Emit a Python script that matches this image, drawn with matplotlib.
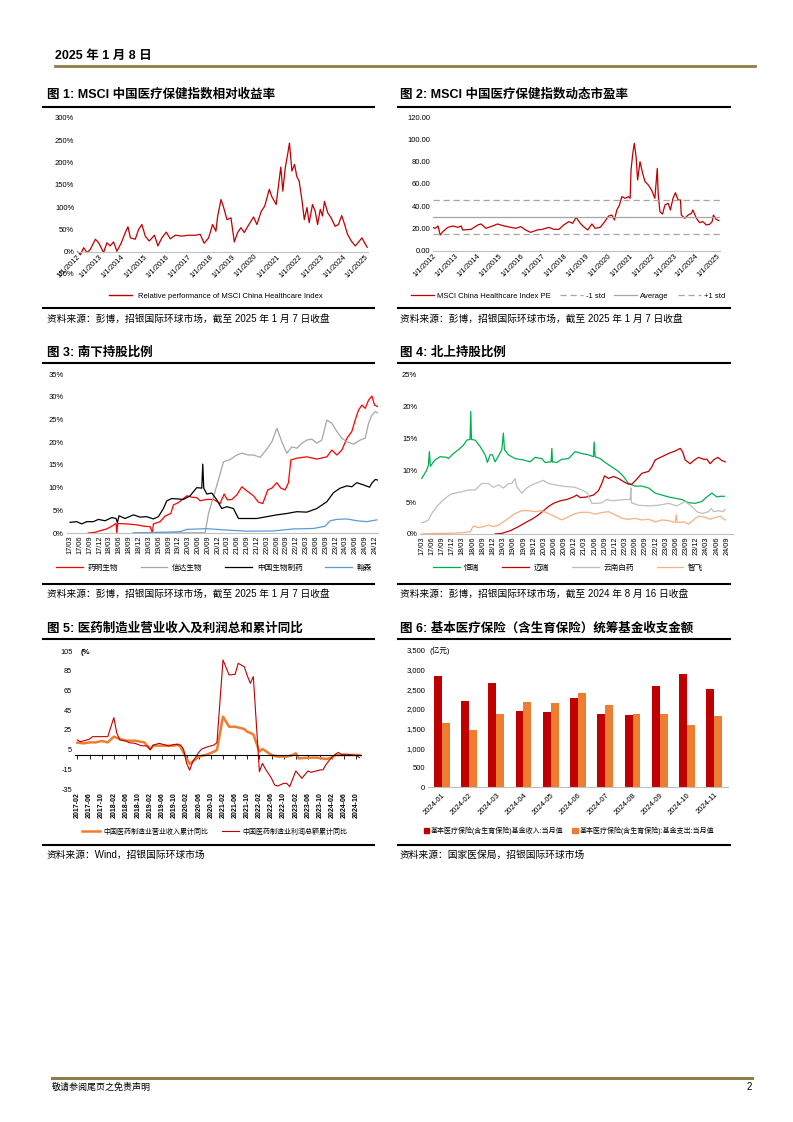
import matplotlib
matplotlib.use('Agg')
import matplotlib.pyplot as plt
from matplotlib.lines import Line2D
from matplotlib.patches import Patch

plt.rcParams['font.family'] = ['Liberation Sans', 'Noto Sans CJK SC']
plt.rcParams['axes.unicode_minus'] = False

# ---------------- data ----------------
# chart 1: relative performance of MSCI China Healthcare (%)
c1_dates = [2012.00, 2012.08, 2012.15, 2012.30, 2012.45, 2012.60, 2012.83, 2012.98, 2013.20, 2013.35,
            2013.50, 2013.65, 2013.80, 2014.00, 2014.18, 2014.30, 2014.41, 2014.63, 2014.78, 2014.93,
            2015.08, 2015.26, 2015.50, 2015.65, 2015.83, 2016.03, 2016.21, 2016.44, 2016.74, 2017.04,
            2017.34, 2017.56, 2017.74, 2017.94, 2018.12, 2018.27, 2018.35, 2018.50, 2018.62, 2018.77,
            2018.95, 2019.10, 2019.25, 2019.40, 2019.55, 2019.71, 2019.97, 2020.12, 2020.32, 2020.47,
            2020.68, 2020.80, 2020.99, 2021.10, 2021.20, 2021.29, 2021.40, 2021.52, 2021.59, 2021.70,
            2021.82, 2021.92, 2022.03, 2022.15, 2022.26, 2022.38, 2022.48, 2022.63, 2022.75, 2022.86,
            2022.98, 2023.08, 2023.17, 2023.32, 2023.47, 2023.65, 2023.80, 2023.95, 2024.08, 2024.21,
            2024.38, 2024.56, 2024.68, 2024.86, 2024.98, 2025.10]
c1_values = [0, -2, -7, 9, -2, 5, 28, 20, -2, 20, 13, 22, 1, 20, 43, 56, 31, 28, 50, 61,
             35, 24, 37, 13, 31, 44, 29, 37, 35, 37, 37, 39, 19, 31, 61, 46, 80, 117, 99, 72,
             76, 22, 43, 54, 43, 57, 78, 61, 91, 102, 140, 123, 106, 151, 190, 136, 188, 222, 244, 181,
             196, 169, 158, 117, 72, 99, 65, 106, 91, 61, 95, 80, 113, 87, 76, 57, 61, 81, 61, 39,
             24, 13, 20, 31, 20, 10]
year_labels = ['1/1/2012', '1/1/2013', '1/1/2014', '1/1/2015', '1/1/2016', '1/1/2017', '1/1/2018',
               '1/1/2019', '1/1/2020', '1/1/2021', '1/1/2022', '1/1/2023', '1/1/2024', '1/1/2025']
year_ticks = [2012, 2013, 2014, 2015, 2016, 2017, 2018, 2019, 2020, 2021, 2022, 2023, 2024, 2025]

# chart 2: forward PE
c2_dates = [2012.00, 2012.11, 2012.23, 2012.33, 2012.45, 2012.68, 2012.91, 2013.14, 2013.29, 2013.36,
            2013.74, 2014.05, 2014.20, 2014.42, 2014.73, 2014.95, 2015.26, 2015.56, 2015.79, 2016.02,
            2016.24, 2016.47, 2016.77, 2017.00, 2017.30, 2017.53, 2017.76, 2017.98, 2018.21, 2018.39,
            2018.55, 2018.74, 2018.89, 2019.08, 2019.27, 2019.42, 2019.65, 2019.80, 2020.03, 2020.18,
            2020.30, 2020.41, 2020.53, 2020.64, 2020.79, 2020.94, 2021.02, 2021.06, 2021.14, 2021.21,
            2021.29, 2021.36, 2021.47, 2021.59, 2021.70, 2021.85, 2022.00, 2022.15, 2022.26, 2022.30,
            2022.38, 2022.50, 2022.61, 2022.76, 2022.86, 2022.98, 2023.09, 2023.21, 2023.32, 2023.36,
            2023.52, 2023.67, 2023.82, 2023.89, 2024.05, 2024.20, 2024.35, 2024.50, 2024.65, 2024.77,
            2024.83, 2024.95, 2025.08]
c2_pe = [21, 20.3, 22.4, 14.3, 17.3, 21.2, 22.4, 21.2, 22.4, 18.8,
         19.4, 23.3, 24.2, 20.3, 22.4, 24.2, 22.4, 21.2, 20.3, 21.8,
         18.8, 16.7, 18.8, 19.4, 21.2, 19.4, 19.4, 23.3, 26.3, 24.8,
         30.1, 24.8, 21.8, 18.8, 24.2, 20.3, 21.2, 24.8, 31.3, 32.2,
         27.8, 36.7, 41.2, 48.7, 47.2, 48.7, 47.2, 72.5, 87.5, 96.4,
         84.5, 63.6, 80.0, 69.6, 62.1, 59.1, 54.6, 47.2, 74.0, 51.6,
         35.2, 33.1, 41.2, 42.7, 36.7, 47.2, 52.2, 45.7, 45.7, 32.2,
         29.3, 32.2, 33.7, 36.7, 29.3, 25.4, 26.3, 23.3, 23.9, 26.3,
         32.2, 28.4, 27.2]
pe_average = 30.3
pe_std = 15.2

# chart 3: southbound holding ratio (%), x = quarter index from 17/03
c3_labels = ['17/03', '17/06', '17/09', '17/12', '18/03', '18/06', '18/09', '18/12',
             '19/03', '19/06', '19/09', '19/12', '20/03', '20/06', '20/09', '20/12',
             '21/03', '21/06', '21/09', '21/12', '22/03', '22/06', '22/09', '22/12',
             '23/03', '23/06', '23/09', '23/12', '24/03', '24/06', '24/09', '24/12']
wuxi_q = [1.86, 2.54, 3.05, 3.73, 4.24, 4.68, 4.75, 4.85, 5.76, 6.78, 7.46, 8.14, 8.37, 8.47, 9.15,
          9.66, 10.24, 10.51, 11.02, 11.36, 11.86, 12.37, 12.88, 13.22, 13.90, 14.58, 15.25, 15.66, 16.0, 16.44,
          16.95, 17.46, 17.97, 18.64, 19.15, 19.59, 20.10, 20.51, 21.02, 21.42, 21.86, 22.20, 22.44, 23.05, 24.07,
          25.08, 26.10, 26.61, 27.12, 27.63, 28.14, 28.64, 28.98, 29.32, 29.66, 30.0, 30.34, 30.68, 30.95, 31.25]
wuxi_v = [0, 0.15, 0.5, 0.9, 1.5, 2.1, 0, 2.1, 2.0, 1.8, 1.5, 1.4, 0, 2.0, 2.5,
          3.75, 4.3, 6.2, 6.7, 7.3, 8.2, 7.9, 7.8, 7.1, 7.4, 7.4, 6.5, 8.6, 7.3, 7.4,
          8.4, 10.2, 9.3, 8.2, 6.8, 6.5, 9.5, 9.9, 11.1, 9.9, 9.5, 11.1, 16.1, 16.5, 16.8,
          16.3, 16.8, 18.3, 17.2, 18.3, 20.9, 22.4, 24.9, 27.1, 28.2, 27.5, 29.3, 30.2, 28.2, 27.9]
innovent_q = [6.44, 13.73, 14.07, 14.58, 15.08, 15.59, 16.27, 16.95, 17.46, 18.14, 18.64, 19.32,
              20.0, 20.51, 21.02, 21.53, 22.03, 22.54, 23.05, 23.56, 24.07, 24.58, 25.08, 25.59,
              26.10, 26.61, 27.12, 27.63, 28.14, 28.81, 29.49, 30.0, 30.34, 30.68, 31.02, 31.25]
innovent_v = [0.05, 0.05, 4.3, 8.0, 11.7, 15.7, 16.2, 17.2, 17.6, 17.2, 17.2, 16.7,
              18.5, 20.1, 23.1, 20.1, 17.6, 19.0, 18.7, 19.8, 20.5, 20.7, 19.8, 20.5,
              24.9, 24.2, 22.4, 20.9, 20.1, 19.6, 20.5, 20.9, 24.2, 26.0, 26.8, 26.5]
sinobio_q = [0, 0.68, 1.19, 1.69, 2.37, 2.88, 3.56, 4.24, 4.68, 4.81, 4.98, 5.59, 6.44, 7.12, 7.80,
             8.47, 8.98, 9.49, 9.83, 10.34, 11.02, 11.53, 12.20, 12.54, 12.88, 13.39, 13.49, 13.59, 13.90, 14.41,
             14.92, 15.42, 15.93, 16.61, 17.12, 17.97, 18.98, 20.00, 21.02, 22.03, 23.05, 24.07, 25.08, 26.10,
             26.78, 27.46, 28.14, 28.64, 29.15, 29.83, 30.44, 30.68, 31.02, 31.25]
sinobio_v = [2.35, 2.5, 2.0, 2.5, 2.5, 3.0, 2.7, 3.4, 3.2, 2.3, 3.8, 3.2, 4.0, 3.5, 3.6,
             3.1, 3.6, 5.4, 7.1, 7.6, 7.5, 7.4, 8.2, 9.1, 10.0, 9.9, 15.2, 9.9, 8.6, 8.8,
             7.3, 5.4, 5.8, 5.4, 3.2, 3.2, 3.2, 3.6, 4.0, 4.3, 4.7, 4.6, 5.4, 6.9,
             8.9, 9.9, 10.4, 10.2, 11.1, 10.6, 10.1, 11.0, 11.8, 11.7]
hansoh_q = [6.44, 8.81, 10.17, 11.19, 11.86, 13.90, 15.93, 17.97, 20.68, 22.71, 24.75, 25.93,
            26.44, 27.12, 28.14, 29.15, 30.17, 31.19]
hansoh_v = [0, 0.15, 0.2, 0.3, 0.8, 0.95, 0.65, 0.4, 0.45, 0.9, 1.0, 1.5,
            2.7, 3.0, 3.1, 2.7, 2.5, 2.9]

# chart 4: northbound holding ratio (%), x = quarter index from 17/03
c4_labels = ['17/03', '17/06', '17/09', '17/12', '18/03', '18/06', '18/09', '18/12',
             '19/03', '19/06', '19/09', '19/12', '20/03', '20/06', '20/09', '20/12',
             '21/03', '21/06', '21/09', '21/12', '22/03', '22/06', '22/09', '22/12',
             '23/03', '23/06', '23/09', '23/12', '24/03', '24/06', '24/09']
hengrui_q = [0, 0.49, 0.66, 0.75, 0.85, 1.31, 1.80, 2.46, 2.62, 3.11, 3.61, 4.10, 4.43, 4.75, 4.82,
             4.89, 5.25, 5.74, 6.23, 6.46, 6.72, 6.95, 7.21, 7.54, 7.87, 8.03, 8.13, 8.52, 9.18, 10.0,
             10.66, 11.15, 11.80, 12.13, 12.72, 12.79, 12.85, 13.28, 13.77, 14.43, 15.08, 15.74, 16.39, 16.89, 16.95,
             17.05, 17.54, 18.03, 18.69, 19.34, 19.84, 20.33, 20.98, 21.64, 22.30, 22.95, 23.61, 24.26, 24.92, 25.57,
             26.23, 26.89, 27.54, 28.03, 28.52, 29.02, 29.34, 29.77]
hengrui_v = [8.7, 10.0, 10.8, 12.9, 10.6, 11.6, 12.1, 12.0, 11.8, 12.6, 13.2, 13.9, 14.7, 14.8, 19.2,
             14.8, 14.7, 13.7, 12.4, 11.2, 12.4, 12.4, 11.3, 12.2, 13.2, 15.8, 13.2, 12.4, 11.8, 11.6,
             11.3, 12.0, 11.8, 11.2, 11.3, 13.4, 11.3, 11.2, 11.7, 11.8, 12.9, 12.6, 12.4, 12.1, 14.4,
             12.1, 11.8, 11.2, 10.5, 9.8, 9.0, 7.9, 7.5, 7.5, 7.2, 6.4, 6.1, 5.8, 5.6, 5.4,
             4.9, 4.8, 5.1, 5.8, 6.4, 5.8, 5.9, 5.9]
mindray_q = [7.21, 7.87, 8.69, 9.51, 10.33, 10.98, 11.48, 11.97, 12.46, 12.95, 13.61, 14.26, 14.92, 15.25, 15.57,
             16.23, 16.89, 17.38, 17.70, 17.97, 18.36, 18.85, 19.34, 19.84, 20.33, 20.66, 21.15, 21.64, 22.30, 22.62,
             22.95, 23.61, 24.26, 24.92, 25.41, 25.64, 25.90, 26.39, 26.82, 27.21, 27.70, 28.03, 28.36, 28.69, 29.11,
             29.51, 29.84]
mindray_v = [0, 0.1, 0.5, 1.15, 1.9, 2.45, 3.0, 3.65, 4.3, 4.8, 5.2, 5.4, 5.8, 6.1, 5.7,
             5.8, 6.1, 6.8, 7.9, 9.1, 8.7, 9.0, 8.7, 8.2, 7.8, 7.8, 8.6, 9.5, 9.8, 10.5,
             11.6, 12.1, 12.6, 13.0, 13.4, 12.9, 11.6, 11.0, 11.6, 12.0, 11.7, 11.7, 11.0, 11.6, 12.0,
             11.5, 11.3]
yunnan_q = [0, 0.33, 0.66, 0.98, 1.48, 1.97, 2.46, 2.95, 3.28, 3.93, 4.59, 5.25, 5.90, 6.56, 7.05,
            7.54, 8.03, 8.52, 8.85, 9.18, 9.34, 9.84, 10.33, 10.82, 11.31, 11.97, 12.46, 13.11, 13.77, 14.43,
            15.08, 15.74, 16.23, 16.72, 17.21, 17.70, 18.20, 18.69, 19.34, 20.0, 20.49, 20.56, 20.62, 21.31, 22.30,
            23.28, 24.26, 25.08, 25.90, 26.56, 27.05, 27.54, 28.20, 28.46, 28.69, 29.18, 29.67, 29.84]
yunnan_v = [1.8, 1.9, 2.2, 3.2, 4.3, 5.1, 5.8, 6.3, 6.4, 6.6, 6.9, 6.9, 7.9, 7.9, 7.3,
            7.7, 7.2, 7.9, 7.9, 8.7, 7.4, 6.4, 7.2, 7.7, 8.0, 8.4, 7.9, 7.7, 7.5, 7.4,
            7.3, 6.9, 6.5, 4.8, 4.8, 4.9, 5.4, 5.2, 5.3, 5.4, 5.4, 7.2, 4.9, 4.5, 4.4,
            4.5, 4.8, 4.4, 5.1, 4.3, 3.5, 3.2, 3.5, 4.0, 3.5, 3.65, 3.5, 3.9]
zhifei_q = [0, 1.31, 2.62, 3.93, 4.75, 5.08, 5.57, 6.07, 6.56, 7.05, 7.54, 8.03, 8.52, 9.18, 9.84,
            10.49, 11.15, 11.80, 12.46, 13.11, 13.77, 14.43, 15.08, 15.74, 16.39, 17.05, 17.70, 18.36, 19.02, 19.67,
            20.33, 20.98, 21.64, 22.30, 22.95, 23.61, 24.26, 24.92, 25.02, 25.11, 25.74, 26.23, 26.72, 27.21, 27.87,
            28.36, 28.85, 29.34, 29.84]
zhifei_v = [0, 0.1, 0.1, 0.2, 0.35, 1.25, 1.0, 1.15, 1.4, 1.15, 1.4, 1.9, 2.45, 3.2, 3.65,
            3.65, 3.5, 3.65, 3.2, 2.7, 2.2, 2.7, 3.2, 3.4, 3.4, 3.1, 3.35, 3.5, 3.0, 2.45,
            2.3, 2.45, 2.2, 2.3, 1.9, 2.2, 2.1, 1.8, 3.0, 1.8, 1.9, 1.55, 2.2, 2.8, 2.6,
            2.3, 2.6, 2.8, 2.2]

# chart 5: pharma manufacturing cumulative yoy (%), x = months since 2017-02
c5_labels = ['2017-02', '2017-06', '2017-10', '2018-02', '2018-06', '2018-10', '2019-02', '2019-06',
             '2019-10', '2020-02', '2020-06', '2020-10', '2021-02', '2021-06', '2021-10', '2022-02',
             '2022-06', '2022-10', '2023-02', '2023-06', '2023-10', '2024-02', '2024-06', '2024-10']
c5_label_months = [0, 4, 8, 12, 16, 20, 24, 28, 32, 36, 40, 44, 48, 52, 56, 60, 64, 68, 72, 76, 80, 84, 88, 92]
revenue_m = [0, 2, 4, 6, 8, 10, 12, 14, 16, 19, 22, 24, 25, 28, 32, 33, 34, 36, 37, 39,
             40, 43, 45, 46, 48, 50, 52, 55, 56, 58, 60, 61, 62, 64, 66, 69, 71, 72, 73, 76,
             79, 82, 84, 85, 87, 90, 93]
revenue_yoy = [12.0, 11.3, 12.3, 12.3, 13.7, 12.3, 18.1, 15.7, 14.0, 14.0, 12.3, 5.6, 9.0, 9.0, 9.0, 10.3, 7.9, -4.0, -9.6, -4.6,
               -2.2, 0.2, 2.9, 4.6, 38.4, 28.2, 28.2, 25.9, 23.2, 20.5, 2.9, 5.6, 3.6, -0.5, -2.2, -2.2, -0.5, 1.2, -4.0, -3.2,
               -3.2, -4.6, -3.2, -0.5, -0.5, -0.5, -0.5]
profit_m = [0, 1, 3, 4, 5, 8, 10, 12, 13, 14, 16, 17, 19, 21, 23, 24, 25, 27, 29, 30,
            32, 34, 35, 36, 37, 38, 40, 41, 43, 45, 46, 48, 50, 52, 53, 55, 56, 57, 58, 60,
            61, 62, 64, 65, 66, 68, 69, 70, 72, 74, 76, 77, 80, 81, 82, 84, 86, 87, 89, 91,
            92, 93]
profit_yoy = [14.7, 13.0, 14.7, 15.7, 18.1, 18.1, 18.1, 37.4, 21.5, 14.7, 13.7, 12.0, 11.3, 9.0, 8.6, 4.6, 9.6, 11.3, 9.6, 8.6,
              10.3, 9.6, 5.2, -9.0, -15.9, -7.4, 2.2, 5.6, 7.9, 9.6, 12.0, 95.9, 80.7, 81.3, 92.5, 89.1, 80.0, 72.2, 79.0, -17.4,
              -9.0, -14.7, -24.2, -30.9, -32.0, -29.3, -29.3, -32.6, -16.7, -24.2, -16.7, -18.1, -15.7, -15.5, -10.0, -2.2, 2.2, 0.2, 0.2, -0.5,
              -1.2, -3.2]

# chart 6: medical insurance fund income / expense (100m RMB)
c6_months = ['2024-01', '2024-02', '2024-03', '2024-04', '2024-05', '2024-06',
             '2024-07', '2024-08', '2024-09', '2024-10', '2024-11']
fund_income = [2844, 2190, 2665, 1952, 1918, 2267, 1868, 1834, 2572, 2895, 2513]
fund_expense = [1647, 1460, 1859, 2173, 2148, 2394, 2088, 1876, 1859, 1579, 1817]

# ---------------- page ----------------
W, H = 793, 1122
fig = plt.figure(figsize=(W / 100, H / 100), dpi=100)


def add_ax(l, t, r, b):
    return fig.add_axes([l / W, 1 - b / H, (r - l) / W, (b - t) / H])


def page_text(x, y, s, **kw):
    fig.text(x / W, 1 - y / H, s, **kw)


def page_line(x0, x1, y, color='black', lw=1.5):
    fig.add_artist(Line2D([x0 / W, x1 / W], [1 - y / H, 1 - y / H], color=color, lw=lw,
                          transform=fig.transFigure))


def style(ax):
    for s in ['top', 'right', 'left']:
        ax.spines[s].set_visible(False)
    ax.spines['bottom'].set_color('#BFBFBF')
    ax.spines['bottom'].set_linewidth(0.8)
    ax.tick_params(axis='y', length=0, labelsize=5.5, pad=2)
    ax.tick_params(axis='x', length=0, labelsize=5.5, pad=1)
    ax.patch.set_alpha(0)


def fig_legend(handles, labels, x, y, ncol, fs=5.5, **kw):
    fig.legend(handles, labels, loc='center', bbox_to_anchor=(x / W, 1 - y / H), ncol=ncol,
               frameon=False, fontsize=fs, **kw)


# header / footer
olive = '#8C7E46'
page_text(55, 56, '2025 年 1 月 8 日', fontsize=9, fontweight='bold', va='center')
page_line(55, 755, 66, color=olive, lw=2)
page_line(52, 752, 1078, color=olive, lw=2.2)
page_text(52, 1087, '敬请参阅尾页之免责声明', fontsize=6.5, va='center')
page_text(752, 1087, '2', fontsize=7, va='center', ha='right')

# titles, rules and sources
titles = [(47, 95, '图 1: MSCI 中国医疗保健指数相对收益率'),
          (400, 95, '图 2: MSCI 中国医疗保健指数动态市盈率'),
          (47, 353, '图 3: 南下持股比例'),
          (400, 353, '图 4: 北上持股比例'),
          (47, 628, '图 5: 医药制造业营业收入及利润总和累计同比'),
          (400, 628, '图 6: 基本医疗保险（含生育保险）统筹基金收支金额')]
for x, y, s in titles:
    page_text(x, y, s, fontsize=9, fontweight='bold', va='center')
for y in [107, 363, 639]:
    page_line(43, 374, y)
    page_line(398, 730, y)
for y in [308, 584, 845]:
    page_line(43, 374, y)
    page_line(398, 730, y)

src = '资料来源：彭博，招银国际环球市场，截至 2025 年 1 月 7 日收盘'
page_text(47, 319, src, fontsize=7, va='center')
page_text(400, 319, src, fontsize=7, va='center')
page_text(47, 594, src, fontsize=7, va='center')
page_text(400, 594, '资料来源：彭博，招银国际环球市场，截至 2024 年 8 月 16 日收盘', fontsize=7, va='center')
page_text(47, 855, '资料来源：Wind，招银国际环球市场', fontsize=7, va='center')
page_text(400, 855, '资料来源：国家医保局，招银国际环球市场', fontsize=7, va='center')

# ---------------- chart 1 ----------------
ax1 = add_ax(77, 118, 368, 274)
style(ax1)
ax1.plot(c1_dates, c1_values, color='#C00000', lw=0.9)
ax1.set_xlim(2012, 2025.135)
ax1.set_ylim(-50, 300)
ax1.set_yticks(range(-50, 301, 50))
ax1.set_yticklabels([f'{v}%' for v in range(-50, 301, 50)])
ax1.spines['bottom'].set_position(('data', 0))
ax1.set_xticks(year_ticks)
ax1.set_xticklabels(year_labels, rotation=45, ha='right', va='top', rotation_mode='anchor')
fig_legend([Line2D([], [], color='#C00000', lw=1)], ['Relative performance of MSCI China Healthcare Index'],
           216, 296, 1, handlelength=3)

# ---------------- chart 2 ----------------
ax2 = add_ax(433, 117, 720, 251)
style(ax2)
l_pe, = ax2.plot(c2_dates, c2_pe, color='#C00000', lw=0.9)
l_avg = ax2.axhline(pe_average, color='#A6A6A6', lw=0.9)
l_lo = ax2.axhline(pe_average - pe_std, color='#A6A6A6', lw=0.9, ls=(0, (5, 3)))
l_hi = ax2.axhline(pe_average + pe_std, color='#A6A6A6', lw=0.9, ls=(0, (5, 3)))
ax2.set_xlim(2012, 2025.13)
ax2.set_ylim(0, 120)
ax2.set_yticks(range(0, 121, 20))
ax2.set_yticklabels([f'{v:.2f}' for v in range(0, 121, 20)])
ax2.set_xticks(year_ticks)
ax2.set_xticklabels(year_labels, rotation=45, ha='right', va='top', rotation_mode='anchor')
fig_legend([l_pe, l_lo, l_avg, l_hi], ['MSCI China Healthcare Index PE', '-1 std', 'Average', '+1 std'],
           568, 296, 4, handlelength=3, columnspacing=1.2, handletextpad=0.4)

# ---------------- chart 3 ----------------
ax3 = add_ax(66.7, 374.3, 378, 533)
style(ax3)
h3 = [ax3.plot(wuxi_q, wuxi_v, color='#FF0000', lw=0.9)[0],
      ax3.plot(innovent_q, innovent_v, color='#A6A6A6', lw=0.9)[0],
      ax3.plot(sinobio_q, sinobio_v, color='#000000', lw=0.9)[0],
      ax3.plot(hansoh_q, hansoh_v, color='#5B9BD5', lw=0.9)[0]]
ax3.set_xlim(-0.34, 31.3)
ax3.set_ylim(0, 35)
ax3.set_yticks(range(0, 36, 5))
ax3.set_yticklabels([f'{v}%' for v in range(0, 36, 5)])
ax3.set_xticks(range(len(c3_labels)))
ax3.set_xticklabels(c3_labels, rotation=90, fontsize=5.3)
ax3.tick_params(axis='x', pad=2)
fig_legend(h3, ['药明生物', '信达生物', '中国生物制药', '翰森'], 214, 568, 4,
           handlelength=3.5, columnspacing=3, handletextpad=0.6)

# ---------------- chart 4 ----------------
ax4 = add_ax(420, 374.3, 733, 534)
style(ax4)
h4 = [ax4.plot(hengrui_q, hengrui_v, color='#00B050', lw=0.9)[0],
      ax4.plot(mindray_q, mindray_v, color='#C00000', lw=0.9)[0],
      ax4.plot(yunnan_q, yunnan_v, color='#BFBFBF', lw=0.9)[0],
      ax4.plot(zhifei_q, zhifei_v, color='#F4B183', lw=0.9)[0]]
ax4.set_xlim(-0.17, 30.6)
ax4.set_ylim(0, 25)
ax4.set_yticks(range(0, 26, 5))
ax4.set_yticklabels([f'{v}%' for v in range(0, 26, 5)])
ax4.set_xticks(range(len(c4_labels)))
ax4.set_xticklabels(c4_labels, rotation=90, fontsize=5.3)
ax4.tick_params(axis='x', pad=2)
fig_legend(h4, ['恒瑞', '迈瑞', '云南白药', '智飞'], 568, 568, 4,
           handlelength=3.5, columnspacing=3, handletextpad=0.6)

# ---------------- chart 5 ----------------
ax5 = add_ax(75, 651, 361, 789)
style(ax5)
h5 = [ax5.plot(revenue_m, revenue_yoy, color='#ED7D31', lw=1.8)[0],
      ax5.plot(profit_m, profit_yoy, color='#C00000', lw=0.8)[0]]
ax5.set_xlim(-0.8, 93.5)
ax5.set_ylim(-35, 105)
ax5.set_yticks(range(-35, 106, 20))
ax5.tick_params(axis='y', labelsize=5.3)
ax5.spines['bottom'].set_position(('data', 0))
ax5.spines['bottom'].set_color('black')
ax5.set_xticks(c5_label_months)
ax5.set_xticklabels([])
ax5.tick_params(axis='x', length=3, width=0.6, direction='out', color='black')
sec5 = ax5.secondary_xaxis('bottom')
sec5.spines['bottom'].set_visible(False)
sec5.set_xticks(c5_label_months)
sec5.set_xticklabels(c5_labels, rotation=90, fontsize=5, fontweight='bold')
sec5.tick_params(axis='x', length=0, pad=2)
page_text(81, 652, '(%', fontsize=5.5, fontweight='bold', va='center')
fig_legend(h5, ['中国医药制造业营业收入累计同比', '中国医药制造业利润总额累计同比'], 215, 832, 2, fs=5,
           handlelength=2.5, columnspacing=2, handletextpad=0.5)

# ---------------- chart 6 ----------------
ax6 = add_ax(428, 650, 728, 787.3)
style(ax6)
xs = list(range(len(c6_months)))
bw = 0.29
b_in = ax6.bar([x - bw / 2 for x in xs], fund_income, width=bw, color='#C00000')
b_out = ax6.bar([x + bw / 2 for x in xs], fund_expense, width=bw, color='#ED7D31')
ax6.set_xlim(-0.5, len(c6_months) - 0.5)
ax6.set_ylim(0, 3500)
ax6.set_yticks(range(0, 3501, 500))
ax6.set_yticklabels([f'{v:,}' for v in range(0, 3501, 500)])
ax6.set_xticks(xs)
ax6.set_xticklabels(c6_months, rotation=45, ha='right', va='top', rotation_mode='anchor')
ax6.tick_params(axis='x', pad=3)
page_text(430, 651, '(亿元)', fontsize=5.5, va='center')
fig_legend([Patch(color='#C00000'), Patch(color='#ED7D31')],
           ['基本医疗保险(含生育保险)基金收入:当月值', '基本医疗保险(含生育保险):基金支出:当月值'],
           569, 831, 2, fs=5, handlelength=0.8, handleheight=0.8, columnspacing=1.2, handletextpad=0.3)

fig.savefig('out.png', dpi=100)
